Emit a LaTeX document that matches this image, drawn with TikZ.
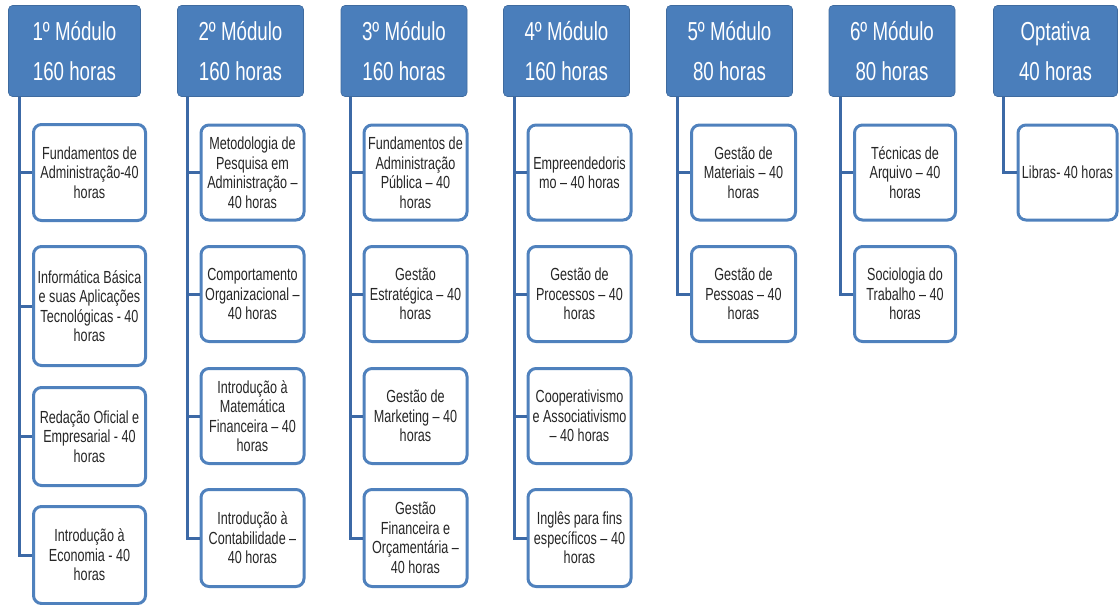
\documentclass[tikz,border=0pt]{standalone}
\usepackage{fontspec}
\setmainfont{Liberation Sans}[FakeStretch=0.72]
\usetikzlibrary{positioning}
\definecolor{modblue}{HTML}{4A7EBB}
\definecolor{edgeblue}{HTML}{4F81BD}
\definecolor{linkblue}{HTML}{3C69A6}

\begin{document}
\begin{tikzpicture}[x=1pt,y=-1pt,
  modulo/.style={fill=modblue,draw=modblue!85!black,line width=0.6pt,rounded corners=4pt,
    minimum width=126pt,minimum height=91pt,align=center,text=white,
    font=\fontsize{26}{40}\selectfont},
  disc/.style={draw=edgeblue,fill=white,line width=3pt,rounded corners=8pt,
    minimum width=103pt,minimum height=95pt,align=center,text=black!85,inner sep=1pt,
    font=\fontsize{17.5}{19.5}\selectfont},
  ramo/.style={draw=linkblue,line width=3pt}]
 \useasboundingbox (0,0) rectangle (1119,605);
 % modulos
 \node[modulo,minimum width=132pt] (m1) at (74.5,51) {1º Módulo\\160 horas};
 \node[modulo] (m2) at (240.5,51) {2º Módulo\\160 horas};
 \node[modulo] (m3) at (404,51) {3º Módulo\\160 horas};
 \node[modulo] (m4) at (566.5,51) {4º Módulo\\160 horas};
 \node[modulo] (m5) at (729.5,51) {5º Módulo\\80 horas};
 \node[modulo] (m6) at (892,51) {6º Módulo\\80 horas};
 \node[modulo,minimum width=124pt] (op) at (1055.5,51) {Optativa\\40 horas};
 % disciplinas 1
 \node[disc,minimum width=112pt,minimum height=96pt] (d11) at (89.5,172.5) {Fundamentos de\\Administração-40\\horas};
 \node[disc,minimum width=112pt,minimum height=119pt] (d12) at (89.5,306) {Informática Básica\\e suas Aplicações\\Tecnológicas - 40\\horas};
 \node[disc,minimum width=112pt,minimum height=98pt] (d13) at (89.5,436.5) {Redação Oficial e\\Empresarial - 40\\horas};
 \node[disc,minimum width=112pt,minimum height=97pt] (d14) at (89.5,555) {Introdução à\\Economia - 40\\horas};
 % disciplinas 2
 \node[disc] (d21) at (252.5,172.5) {Metodologia de\\Pesquisa em\\Administração –\\40 horas};
 \node[disc] (d22) at (252.5,294) {Comportamento\\Organizacional –\\40 horas};
 \node[disc] (d23) at (252.5,416) {Introdução à\\Matemática\\Financeira – 40\\horas};
 \node[disc,minimum height=97pt] (d24) at (252.5,538) {Introdução à\\Contabilidade –\\40 horas};
 % disciplinas 3
 \node[disc] (d31) at (415.5,172.5) {Fundamentos de\\Administração\\Pública – 40\\horas};
 \node[disc] (d32) at (415.5,294) {Gestão\\Estratégica – 40\\horas};
 \node[disc] (d33) at (415.5,416) {Gestão de\\Marketing – 40\\horas};
 \node[disc,minimum height=97pt] (d34) at (415.5,538) {Gestão\\Financeira e\\Orçamentária –\\40 horas};
 % disciplinas 4
 \node[disc] (d41) at (579.5,172.5) {Empreendedoris\\mo – 40 horas};
 \node[disc] (d42) at (579.5,294) {Gestão de\\Processos – 40\\horas};
 \node[disc] (d43) at (579.5,416) {Cooperativismo\\e Associativismo\\– 40 horas};
 \node[disc,minimum height=97pt] (d44) at (579.5,538) {Inglês para fins\\específicos – 40\\horas};
 % disciplinas 5 e 6
 \node[disc,minimum width=104pt] (d51) at (743.5,172.5) {Gestão de\\Materiais – 40\\horas};
 \node[disc,minimum width=104pt] (d52) at (743.5,294) {Gestão de\\Pessoas – 40\\horas};
 \node[disc,minimum width=101pt] (d61) at (905,172.5) {Técnicas de\\Arquivo – 40\\horas};
 \node[disc,minimum width=101pt] (d62) at (905,294) {Sociologia do\\Trabalho – 40\\horas};
 % optativa
 \node[disc,minimum width=99pt] (d71) at (1067.5,172.5) {Libras- 40 horas};
 % ramos
 \draw[ramo] ([xshift=11pt]m1.south west) |- (d11.west);
 \draw[ramo] ([xshift=11pt]m1.south west) |- (d12.west);
 \draw[ramo] ([xshift=11pt]m1.south west) |- (d13.west);
 \draw[ramo] ([xshift=11pt]m1.south west) |- (d14.west);
 \draw[ramo] ([xshift=10pt]m2.south west) |- (d21.west);
 \draw[ramo] ([xshift=10pt]m2.south west) |- (d22.west);
 \draw[ramo] ([xshift=10pt]m2.south west) |- (d23.west);
 \draw[ramo] ([xshift=10pt]m2.south west) |- (d24.west);
 \draw[ramo] ([xshift=10pt]m3.south west) |- (d31.west);
 \draw[ramo] ([xshift=10pt]m3.south west) |- (d32.west);
 \draw[ramo] ([xshift=10pt]m3.south west) |- (d33.west);
 \draw[ramo] ([xshift=10pt]m3.south west) |- (d34.west);
 \draw[ramo] ([xshift=11pt]m4.south west) |- (d41.west);
 \draw[ramo] ([xshift=11pt]m4.south west) |- (d42.west);
 \draw[ramo] ([xshift=11pt]m4.south west) |- (d43.west);
 \draw[ramo] ([xshift=11pt]m4.south west) |- (d44.west);
 \draw[ramo] ([xshift=11pt]m5.south west) |- (d51.west);
 \draw[ramo] ([xshift=11pt]m5.south west) |- (d52.west);
 \draw[ramo] ([xshift=12pt]m6.south west) |- (d61.west);
 \draw[ramo] ([xshift=12pt]m6.south west) |- (d62.west);
 \draw[ramo] ([xshift=10pt]op.south west) |- (d71.west);
\end{tikzpicture}
\end{document}
